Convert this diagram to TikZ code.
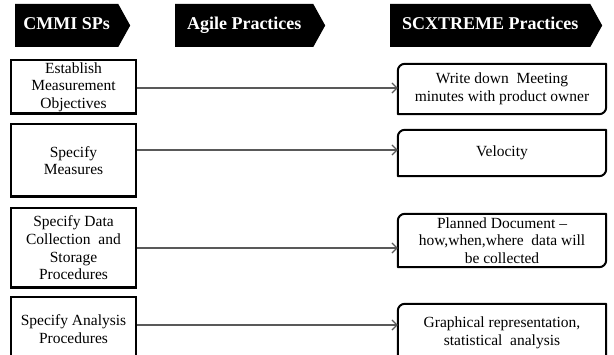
\documentclass[tikz,border=0pt]{standalone}
\usepackage{fontspec}
\setmainfont{Liberation Serif}
\usepackage{tikz}
\usetikzlibrary{positioning,shapes.symbols,arrows.meta}
\def\SPWidth{125pt}
\def\XPWidth{208pt}
\def\BodySize{\fontsize{15.5}{17.7}\selectfont}
\def\CornerR{7pt}

\tikzset{
	head/.style={shape=signal,signal to=east,signal pointer angle=122,fill=black,text=white,
		font=\fontsize{18}{20}\selectfont\bfseries,minimum height=43pt,inner sep=0pt,
		text height=12pt,text depth=4pt,anchor=west},
	spbox/.style={draw,line width=2.5pt,minimum width=\SPWidth,align=center,font=\BodySize,inner sep=0pt},
	xpbox/.style={minimum width=\XPWidth,align=center,font=\BodySize,inner sep=0pt},
	rim/.style={line width=2pt,line join=round},
	link/.style={draw=black!65,line width=1.3pt,-{Straight Barb[length=5pt,width=10pt,line width=1.2pt]}},
}

\begin{document}
\begin{tikzpicture}[x=1pt,y=1pt]
			\useasboundingbox (0,0) rectangle (614,-355);
			% column heads
			\node[head,minimum width=115pt] (hsp) at (15,-25.5) {CMMI SPs};
			\node[head,minimum width=150pt] (hag) at (175,-25.5) {Agile Practices};
			\node[head,minimum width=212pt] (hxp) at (390,-25.5) {SCXTREME Practices};
			% 
			\node[spbox,minimum height=53.5pt] (sp1) at (73.5,-87) {Establish\\Measurement\\Objectives};
			\node[spbox,minimum height=72.5pt,below=8pt of sp1] (sp2) {Specify\\Measures};
			\node[spbox,minimum height=79.5pt,below=9pt of sp2] (sp3) {Specify Data\\Collection \ and\\Storage\\Procedures};
			\node[spbox,minimum height=63.5pt,below=7pt of sp3] (sp4) {Specify Analysis\\Procedures};
			% 
			\node[xpbox,minimum height=50pt] (xp1) at (502,-89) {Write down \ Meeting\\minutes with product owner};
			\node[xpbox,minimum height=46pt] (xp2) at (502,-153) {Velocity};
			\node[xpbox,minimum height=53pt] (xp3) at (502,-240.5) {Planned Document --\\how,when,where \ data will\\be collected};
			\node[xpbox,minimum height=58pt] (xp4) at (502,-333) {Graphical representation,\\statistical \ analysis};
			% HOWTO: only top left and bottom right corners are round
			\foreach \n in {xp1,xp2,xp3,xp4}
				\draw[rim] ([yshift=-\CornerR]\n.north west) arc[start angle=180,end angle=90,radius=\CornerR]
					-- (\n.north east) -- ([yshift=\CornerR]\n.south east)
					arc[start angle=0,end angle=-90,radius=\CornerR] -- (\n.south west) -- cycle;
			% 
			\foreach \i/\y in {1/-88,2/-150,3/-248,4/-325}
				\draw[link] (sp\i.east |- 0,\y) -- (xp\i.west |- 0,\y);
		\end{tikzpicture}
\end{document}
